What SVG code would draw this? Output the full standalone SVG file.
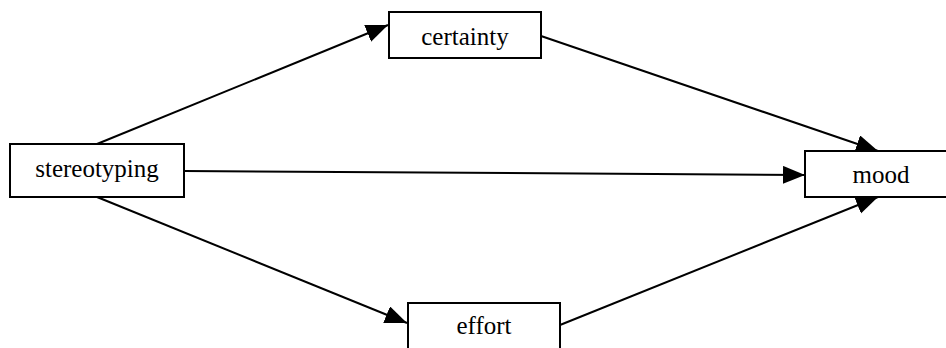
<svg xmlns="http://www.w3.org/2000/svg" width="946" height="348" viewBox="0 0 946 348">
<style>
.box{fill:#fff;stroke:#000;stroke-width:2}
.lbl{fill:#000;text-anchor:middle}
.edge{stroke:#000;stroke-width:2;fill:none;marker-end:url(#ah)}
</style>
<defs>
<marker id="ah" markerUnits="userSpaceOnUse" markerWidth="24" markerHeight="20" refX="22" refY="9" orient="auto">
<path d="M0,0 L22,9 L0,18 z" fill="#000"/>
</marker>
</defs>
<rect width="946" height="348" fill="#fff"/>
<g id="connectors">
<line class="edge" x1="97" y1="144" x2="388" y2="25"/>
<line class="edge" x1="184" y1="171" x2="805" y2="175"/>
<line class="edge" x1="97" y1="197" x2="407" y2="323"/>
<line class="edge" x1="541" y1="36" x2="878" y2="151"/>
<line class="edge" x1="560" y1="325" x2="878" y2="197"/>
</g>
<g font-family="'Liberation Serif', 'Times New Roman', 'DejaVu Serif', serif" font-size="25">
<g id="stereotyping">
<rect class="box" x="10" y="144" width="174" height="53"/>
<text class="lbl" x="97" y="177">stereotyping</text>
</g>
<g id="certainty">
<rect class="box" x="389" y="12" width="152" height="46"/>
<text class="lbl" x="465" y="45">certainty</text>
</g>
<g id="effort">
<rect class="box" x="408" y="303" width="152" height="50"/>
<text class="lbl" x="484" y="334">effort</text>
</g>
<g id="mood">
<rect class="box" x="805" y="151" width="152" height="46"/>
<text class="lbl" x="881" y="183">mood</text>
</g>
</g>
</svg>
